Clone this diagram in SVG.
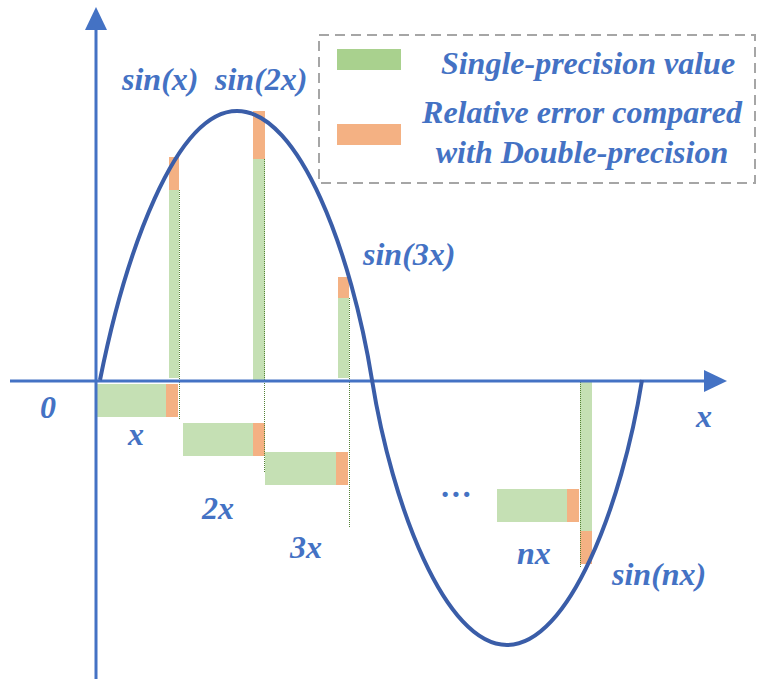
<svg xmlns="http://www.w3.org/2000/svg" width="757" height="679" viewBox="0 0 757 679">
<style>
.ax{stroke:#4472C4;stroke-width:3;fill:none}
.ah{fill:#4472C4}
.crv{stroke:#3A5DA8;stroke-width:4;fill:none}
.g{fill:#C5E0B4}
.o{fill:#F4B183}
.dot{stroke:#548235;stroke-width:1;stroke-dasharray:1 1;fill:none}
.t{font-family:"Liberation Serif","Times New Roman",serif;font-weight:bold;font-style:italic;font-size:32px;fill:#4472C4}
.lg{fill:#fff;stroke:#A6A6A6;stroke-width:2;stroke-dasharray:10 6}
</style>
<rect width="757" height="679" fill="#fff"/>
<g id="bars">
  <rect class="g" x="169" y="190" width="10" height="188"/>
  <rect class="o" x="169" y="157" width="10" height="33"/>
  <rect class="g" x="253" y="159" width="12" height="221"/>
  <rect class="o" x="253" y="111" width="12" height="48"/>
  <rect class="g" x="338" y="298" width="11" height="80"/>
  <rect class="o" x="338" y="277" width="11" height="21"/>
  <rect class="g" x="580" y="382" width="12" height="149"/>
  <rect class="o" x="580" y="531" width="12" height="33"/>
  <rect class="g" x="96" y="384" width="70" height="33"/>
  <rect class="o" x="166" y="384" width="12" height="33"/>
  <rect class="g" x="183" y="423" width="70" height="33"/>
  <rect class="o" x="253" y="423" width="12" height="33"/>
  <rect class="g" x="265" y="452" width="71" height="33"/>
  <rect class="o" x="336" y="452" width="12" height="33"/>
  <rect class="g" x="497" y="489" width="70" height="33"/>
  <rect class="o" x="567" y="489" width="12" height="33"/>
  <path class="dot" d="M179.5 190V420M264.5 159V473M349.5 298V527M580.5 382V567"/>
</g>
<g id="connectors">
  <path class="ax" d="M96 28V679"/>
  <polygon class="ah" points="96,7 85,30 107,30"/>
  <path class="ax" d="M10 381H706"/>
  <polygon class="ah" points="727,381 704,370 704,392"/>
</g>
<g id="curve">
  <path class="crv" d="M100 380C125 255 175 111 237 111C300 111 352 255 372 380C392 505 445 645 507 645C569 645 622 505 642 380"/>
</g>
<g id="labels">
  <text class="t" x="122" y="90">sin(x)</text>
  <text class="t" x="215" y="90">sin(2x)</text>
  <text class="t" x="363" y="265">sin(3x)</text>
  <text class="t" x="612" y="585">sin(nx)</text>
  <text class="t" x="40" y="418">0</text>
  <text class="t" x="128" y="445">x</text>
  <text class="t" x="202" y="519">2x</text>
  <text class="t" x="290" y="558">3x</text>
  <text class="t" x="517" y="564">nx</text>
  <text class="t" x="696" y="427">x</text>
  <text class="t" x="441" y="497">…</text>
</g>
<g id="legend">
  <rect class="lg" x="319" y="35" width="436" height="148"/>
  <rect x="337" y="49" width="64" height="21" fill="#A9D18E"/>
  <rect class="o" x="337" y="124" width="64" height="21"/>
  <text class="t" x="588" y="74" text-anchor="middle">Single-precision value</text>
  <text class="t" x="582" y="123" text-anchor="middle">Relative error compared</text>
  <text class="t" x="582" y="163" text-anchor="middle">with Double-precision</text>
</g>
</svg>
